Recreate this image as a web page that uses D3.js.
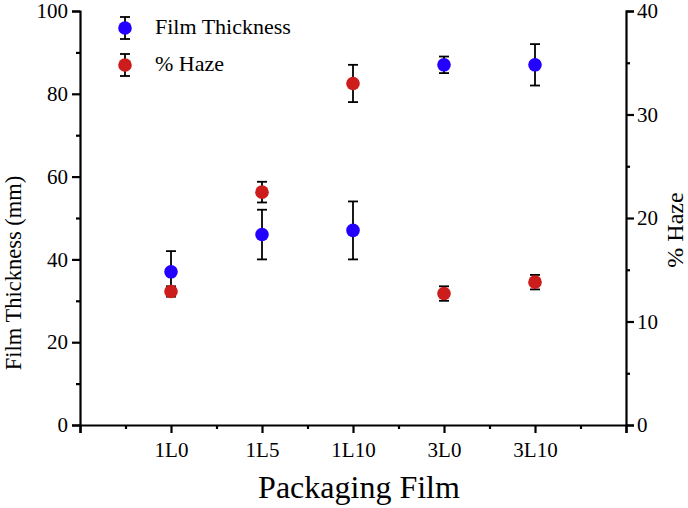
<!DOCTYPE html>
<html lang="en">
<head>
<meta charset="UTF-8">
<script src="https://cdnjs.cloudflare.com/ajax/libs/d3/7.8.4/d3.min.js"></script>
<title>Film Thickness and Haze</title>
<style>
  body { margin: 0; background: #fff; }
  text { font-family: "Liberation Serif", "Times New Roman", serif; fill: #000; }
</style>
</head>
<body>
<script>
// data
const films = ["1L0", "1L5", "1L10", "3L0", "3L10"]
const thickness = [37, 46, 47, 87, 87]
const thicknessErr = [5, 6, 7, 2, 5]
const haze = [12.9, 22.5, 33.0, 12.7, 13.8]
const hazeErr = [0.5, 1.0, 1.8, 0.7, 0.7]
const leftTicks = [0, 20, 40, 60, 80, 100]
const rightTicks = [0, 10, 20, 30, 40]

const width = 688, height = 508
const plotLeft = 80, plotRight = 626, plotTop = 11, plotBottom = 425

let svg = d3.select("body").append("svg")
  .attr("width", width)
  .attr("height", height)

// x: categories sit on integer positions 1..5, axis runs 0..6
let x = d3.scaleLinear().domain([0, films.length + 1]).range([plotLeft, plotRight])
let yL = d3.scaleLinear().domain([0, 100]).range([plotBottom, plotTop])
let yR = d3.scaleLinear().domain([0, 40]).range([plotBottom, plotTop])

const axisW = 2.2

// x axis
let xAxis = svg.append("g").attr("transform", `translate(0,${plotBottom})`)
xAxis.call(d3.axisBottom(x)
    .tickValues(d3.range(0, films.length + 2))
    .tickSize(8)
    .tickFormat(d => (d >= 1 && d <= films.length) ? films[d - 1] : ""))
xAxis.append("g").call(d3.axisBottom(x)
    .tickValues(d3.range(0.5, films.length + 1, 1))
    .tickSize(4)
    .tickFormat(""))

// left axis
let yAxisL = svg.append("g").attr("transform", `translate(${plotLeft},0)`)
yAxisL.call(d3.axisLeft(yL).tickValues(leftTicks).tickSize(8))
yAxisL.append("g").call(d3.axisLeft(yL).tickValues([10, 30, 50, 70, 90]).tickSize(4).tickFormat(""))

// right axis
let yAxisR = svg.append("g").attr("transform", `translate(${plotRight},0)`)
yAxisR.call(d3.axisRight(yR).tickValues(rightTicks).tickSize(8))
yAxisR.append("g").call(d3.axisRight(yR).tickValues([5, 15, 25, 35]).tickSize(4).tickFormat(""))

svg.selectAll(".domain").attr("stroke-width", axisW)
svg.selectAll(".tick line").attr("stroke-width", axisW)
svg.selectAll(".tick text")
  .attr("font-family", "'Liberation Serif', serif")
  .style("font-size", "21px")
xAxis.selectAll(".tick text").attr("dy", "1em")
yAxisL.selectAll(".tick text").attr("x", -12)
yAxisR.selectAll(".tick text").attr("x", 11)
// the inner groups only add the small ticks
svg.selectAll("g g .domain").remove()

// axis titles
svg.append("text")
  .attr("x", 359)
  .attr("y", 498)
  .attr("text-anchor", "middle")
  .style("font-size", "32px")
  .text("Packaging Film")

svg.append("text")
  .attr("transform", `translate(21,273) rotate(-90)`)
  .attr("text-anchor", "middle")
  .style("font-size", "22.5px")
  .text("Film Thickness (mm)")

svg.append("text")
  .attr("transform", `translate(683,230) rotate(-90)`)
  .attr("text-anchor", "middle")
  .style("font-size", "24px")
  .text("% Haze")

const blue = "#2400ff", red = "#cc1c1c"
const capW = 5, r = 6.8

function drawSeries(vals, errs, scale, color) {
  let g = svg.append("g")
  let pts = vals.map((v, i) => ({ x: x(i + 1), v: v, e: errs[i] }))
  let eb = g.selectAll("g.err").data(pts).enter().append("g")
    .attr("stroke", "#000").attr("stroke-width", 1.8)
  eb.append("line")
    .attr("x1", d => d.x).attr("x2", d => d.x)
    .attr("y1", d => scale(d.v - d.e)).attr("y2", d => scale(d.v + d.e))
  eb.append("line")
    .attr("x1", d => d.x - capW).attr("x2", d => d.x + capW)
    .attr("y1", d => scale(d.v + d.e)).attr("y2", d => scale(d.v + d.e))
  eb.append("line")
    .attr("x1", d => d.x - capW).attr("x2", d => d.x + capW)
    .attr("y1", d => scale(d.v - d.e)).attr("y2", d => scale(d.v - d.e))
  g.selectAll("circle").data(pts).enter().append("circle")
    .attr("cx", d => d.x).attr("cy", d => scale(d.v))
    .attr("r", r).attr("fill", color)
}

drawSeries(thickness, thicknessErr, yL, blue)
drawSeries(haze, hazeErr, yR, red)

// legend
const legend = [
  { label: "Film Thickness", color: blue, y: 28 },
  { label: "% Haze", color: red, y: 65 }
]
let lg = svg.append("g")
legend.forEach(d => {
  let item = lg.append("g").attr("stroke-width", 1.8)
  item.append("line").attr("x1", 125).attr("x2", 125).attr("y1", d.y - 11).attr("y2", d.y + 11)
    .attr("stroke", "#000")
  item.append("line").attr("x1", 125 - capW).attr("x2", 125 + capW).attr("y1", d.y - 11).attr("y2", d.y - 11)
    .attr("stroke", "#000")
  item.append("line").attr("x1", 125 - capW).attr("x2", 125 + capW).attr("y1", d.y + 11).attr("y2", d.y + 11)
    .attr("stroke", "#000")
  item.append("circle").attr("cx", 125).attr("cy", d.y).attr("r", r).attr("fill", d.color)
  item.append("text").attr("x", 155).attr("y", d.y + 6)
    .style("font-size", "22px")
    .text(d.label)
})
</script>
</body>
</html>
